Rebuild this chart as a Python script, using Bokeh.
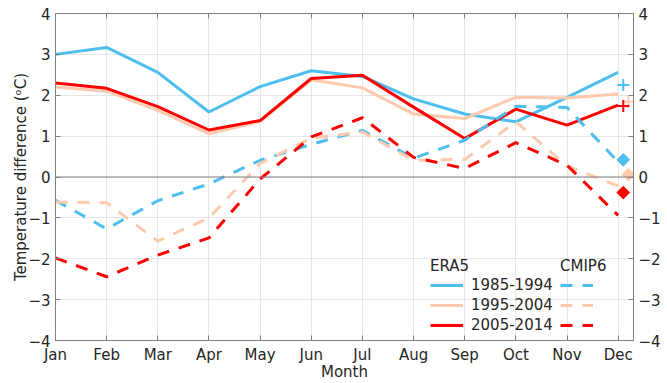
from bokeh.plotting import figure
from bokeh.models import (Range1d, LinearAxis, FixedTicker, Legend, LegendItem,
                          Span, ColumnDataSource)
from bokeh.transform import dodge
from bokeh.embed import file_html
from bokeh.resources import INLINE
import math

# ---------------- data ----------------
months = [1, 2, 3, 4, 5, 6, 7, 8, 9, 10, 11, 12]
month_labels = ["Jan", "Feb", "Mar", "Apr", "May", "Jun",
                "Jul", "Aug", "Sep", "Oct", "Nov", "Dec"]
y_ticks = [-4, -3, -2, -1, 0, 1, 2, 3, 4]
periods = ["1985-1994", "1995-2004", "2005-2014"]

era5_1985 = [3.00, 3.17, 2.56, 1.59, 2.21, 2.60, 2.46, 1.91, 1.54, 1.35, 1.95, 2.56]
era5_1995 = [2.20, 2.10, 1.63, 1.06, 1.36, 2.38, 2.18, 1.54, 1.43, 1.95, 1.93, 2.03]
era5_2005 = [2.30, 2.17, 1.72, 1.15, 1.38, 2.41, 2.49, 1.71, 0.94, 1.66, 1.27, 1.76]

cmip6_1985 = [-0.57, -1.27, -0.58, -0.17, 0.41, 0.80, 1.14, 0.46, 0.90, 1.73, 1.70, 0.37]
cmip6_1995 = [-0.61, -0.63, -1.57, -1.00, 0.33, 0.95, 1.10, 0.41, 0.43, 1.35, 0.27, -0.22]
cmip6_2005 = [-1.98, -2.44, -1.91, -1.49, -0.05, 0.98, 1.45, 0.48, 0.21, 0.84, 0.29, -0.94]

# annual means shown beside December
mean_month = [12, 12, 12]
era5_mean = [2.25, 1.84, 1.74]
cmip6_mean = [0.42, 0.06, -0.38]

colors = ["#4DBEEE", "#FFC9AE", "#FF0000"]

# ---------------- styling ----------------
FONT = "DejaVu Sans"
TXT = "#262626"
AX = "#808080"
FS = "15px"

p = figure(width=667, height=383, output_backend="svg", toolbar_location=None,
           x_range=Range1d(1, 12.3), y_range=Range1d(-4, 4),
           min_border_left=55, min_border_right=34, min_border_top=13,
           min_border_bottom=41, background_fill_color="white",
           border_fill_color="white", outline_line_color=None)

month_ticker = FixedTicker(ticks=months)
y_ticker = FixedTicker(ticks=y_ticks)


def style_axis(ax, labels=True):
    ax.axis_line_color = AX
    ax.axis_line_width = 1
    ax.major_tick_line_color = AX
    ax.major_tick_in = 5
    ax.major_tick_out = 0
    ax.minor_tick_line_color = None
    ax.major_label_text_font = FONT
    ax.major_label_text_font_size = FS if labels else "0px"
    ax.major_label_text_color = TXT
    ax.axis_label_text_font = FONT
    ax.axis_label_text_font_size = FS
    ax.axis_label_text_font_style = "normal"
    ax.axis_label_text_color = TXT


xa = p.xaxis[0]
xa.ticker = month_ticker
xa.major_label_overrides = {m: lab for m, lab in zip(months, month_labels)}
xa.axis_label = "Month"
xa.major_label_standoff = 5
xa.axis_label_standoff = -4
style_axis(xa)

ya = p.yaxis[0]
ya.ticker = y_ticker
ya.axis_label = "Temperature difference (ᵒC)"
ya.major_label_standoff = 5
ya.axis_label_standoff = -5
style_axis(ya)

top = LinearAxis(ticker=month_ticker, major_label_standoff=0,
                 major_label_overrides={m: "" for m in months})
style_axis(top, labels=False)
p.add_layout(top, "above")

right = LinearAxis(ticker=y_ticker, major_label_standoff=5)
style_axis(right)
p.add_layout(right, "right")

p.xgrid.ticker = month_ticker
p.ygrid.ticker = y_ticker
p.xgrid.grid_line_color = "#e6e6e6"
p.ygrid.grid_line_color = "#e6e6e6"
p.xgrid.grid_line_width = 1
p.ygrid.grid_line_width = 1

p.add_layout(Span(location=0, dimension="width", line_color=AX, line_width=1))

# ---------------- lines ----------------
era5 = [era5_1985, era5_1995, era5_2005]
cmip6 = [cmip6_1985, cmip6_1995, cmip6_2005]

solid_r = []
for vals, c in zip(era5, colors):
    r = p.line(months, vals, line_color=c, line_width=3)
    solid_r.append(r)

dash_r = []
for vals, c in zip(cmip6, colors):
    r = p.line(months, vals, line_color=c, line_width=3, line_dash="12 10")
    dash_r.append(r)

# ---------------- annual mean markers ----------------
offsets = [0.1, 0.2, 0.1]
for i in range(3):
    src = ColumnDataSource(dict(x=[mean_month[i]], e=[era5_mean[i]], c=[cmip6_mean[i]]))
    xd = dodge("x", offsets[i], range=p.x_range)
    p.scatter(x=xd, y="e", source=src, marker="cross", size=12,
              line_color=colors[i], line_width=2)
    p.scatter(x=xd, y="c", source=src, marker="square", size=9,
              angle=math.pi / 4, fill_color=colors[i], line_color=colors[i],
              line_width=1)

# ---------------- legends ----------------
common = dict(padding=0, margin=0, spacing=0, glyph_width=33, glyph_height=20,
              label_height=20, label_standoff=8, background_fill_alpha=0,
              border_line_alpha=0, title_standoff=-5,
              label_text_font=FONT, label_text_font_size=FS, label_text_color=TXT,
              title_text_font=FONT, title_text_font_size=FS, title_text_color=TXT,
              title_text_font_style="normal")

leg1 = Legend(items=[LegendItem(label=lab, renderers=[r]) for lab, r in zip(periods, solid_r)],
              title="ERA5", location=(375, 5), **common)
leg2 = Legend(items=[LegendItem(label=" ", renderers=[r]) for r in dash_r],
              title="CMIP6", location=(505, 5), **common)
p.add_layout(leg1)
p.add_layout(leg2)

open("out.html", "w").write(file_html(p, INLINE))
